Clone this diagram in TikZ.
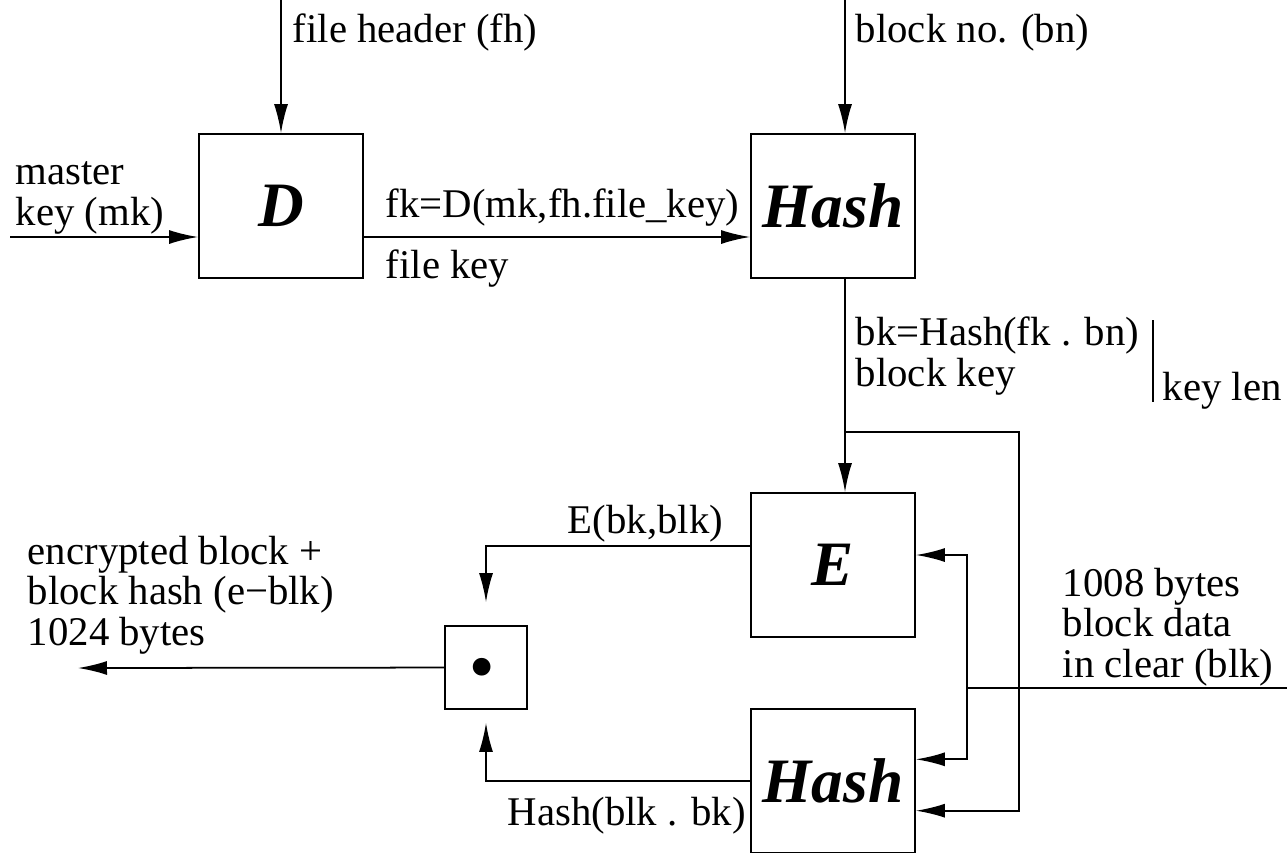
\documentclass[tikz,border=0pt]{standalone}
\usepackage{fontspec}
\setmainfont{Liberation Serif}
\usetikzlibrary{arrows.meta}

\begin{document}
\begin{tikzpicture}[x=0.02cm, y=-0.02cm, >={Latex[length=0.58cm,width=0.28cm]}, line width=1pt,
    font=\fontsize{23.2}{22.8}\selectfont]
    % Define block styles
    \tikzstyle{block} = [draw, rectangle, minimum width=3.28cm, minimum height=2.88cm,
        font=\fontsize{36}{40}\selectfont\bfseries\itshape]
    \tikzstyle{joiner} = [draw, rectangle, minimum width=1.64cm, minimum height=1.66cm,
        font=\fontsize{62}{40}\selectfont\bfseries\itshape]
    \tikzstyle{lbl} = [inner sep=0pt, anchor=base west, align=left]
    \tikzstyle{input} = [coordinate]
    \tikzstyle{output} = [coordinate]

    \useasboundingbox (0,0) rectangle (1287,852);

    % Nodes
    \node [block] (D) at (281,206) {D};
    \node [block] (hash) at (833,206) {Hash};
    \node [block] (E) at (833,565) {E};
    \node [block] (hash2) at (833,781) {Hash};
    \node [joiner] (dot) at (486,667.5) {.};

    \node [input, name=fh] at (281,0) {};
    \node [input, name=bn] at (845,0) {};
    \node [input, name=mk] at (10,237) {};
    \node [input, name=blk] at (1287,688) {};
    \node [output, name=out] at (78,668) {};
    \coordinate (split) at (845,432);
    \coordinate (bus) at (1018.7,810.7);
    \coordinate (fork) at (966.7,688);

    % Labels (base = last line)
    \node [lbl] (fhl) at (292,42) {file header (fh)};
    \node [lbl] (bnl) at (855,42) {block no. (bn)};
    \node [lbl] (mkl) at (15,225) {master\\key (mk)};
    \node [lbl] (fkl) at (385,217) {fk=D(mk,fh.file\_key)};
    \node [lbl] (fkn) at (385,278) {file key};
    \node [lbl] (bkl) at (855,386) {bk=Hash(fk . bn)\\block key};
    \node [lbl] (kll) at (1162,400) {key len};
    \node [lbl] (el) at (567,533) {E(bk,blk)};
    \node [lbl] (hl) at (507,825) {Hash(blk . bk)};
    \node [lbl] (outl) at (27,645) {encrypted block +\\block hash (e−blk)\\1024 bytes};
    \node [lbl] (blkl) at (1062,677) {1008 bytes\\block data\\in clear (blk)};

    % Connections
    \draw [->] (fh) -- (D);
    \draw [->] (mk) -- (mk -| D.west);
    \draw [->] (D.east |- mk) -- (mk -| hash.west);
    \draw [->] (bn) -- (bn |- hash.north);
    \draw [->] (bn |- hash.south) -- (bn |- E.north);
    \draw [->] (split) -| (bus) -- (bus -| hash2.east);
    \draw (blk) -- (fork);
    \draw [<->] ([yshift=0.2cm]E.east) -| (fork) |- ([yshift=0.434cm]hash2.east);
    \draw [->] ([yshift=0.38cm]E.west) -| ([yshift=0.46cm]dot.north);
    \draw [->] (hash2.west) -| ([yshift=-0.26cm]dot.south);
    \draw [->] (dot) -- (out);
    \draw (1153,320) -- (1153,402);
  \end{tikzpicture}
\end{document}
